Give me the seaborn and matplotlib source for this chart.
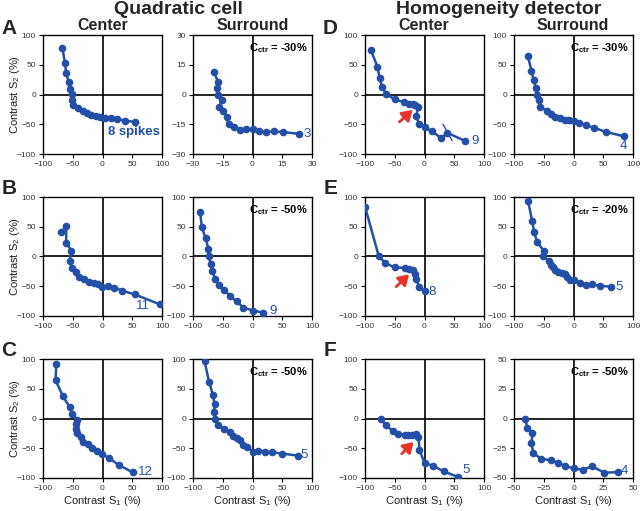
import matplotlib
matplotlib.use("Agg")
import matplotlib.pyplot as plt
import seaborn as sns
import pandas as pd

# ---------------- data ----------------
a_ctr_x = [-67.5, -63, -61, -57, -54, -52, -52, -50, -41, -33, -26, -19, -11, -5, 4, 14, 24, 38, 54]
a_ctr_y = [78.8, 52.5, 36, 21, 9.5, 0.5, -9, -18, -23, -27, -31, -34, -36, -38, -40, -40, -41, -44, -46]
a_sur_x = [-19.5, -17.3, -17.8, -17.5, -15.3, -16.8, -14.8, -13.1, -12.1, -9.5, -6.5, -3.3, 0, 3.5, 6.8, 10.6, 15.6, 23.2]
a_sur_y = [11.5, 6.3, 3.1, 0, -2.6, -6.3, -8.5, -11.1, -14.9, -16.4, -17.9, -17.6, -17.6, -18.6, -18.8, -18.6, -19, -19.8]

b_ctr_x = [-69, -61, -61, -52.4, -55.3, -51.3, -45, -40, -31, -22.7, -14.8, -7.6, -0.3, 9.2, 19.9, 33.3, 54, 96]
b_ctr_y = [40.5, 51.3, 23, 10, -8.2, -19, -26.3, -34.8, -38.2, -42.2, -45, -46.2, -50.7, -49.6, -52.4, -57.5, -63.7, -80.2]
b_sur_x = [-88, -85.4, -78.7, -74.2, -73.1, -70.3, -67.5, -63, -56.3, -47.9, -37.8, -26.6, -15.4, 1.4, 17]
b_sur_y = [75.6, 50.1, 30.3, 13.3, 0.3, -13.3, -24.6, -37.7, -47.9, -56.4, -66, -75.6, -85.8, -90.9, -94.3]

c_ctr_x = [-77.7, -78.8, -66.5, -55.3, -50.8, -43, -44.1, -44.1, -42.5, -35.8, -33, -24.6, -17.3, -8.9, -0.6, 11.7, 27.4, 50.8]
c_ctr_y = [91, 64.2, 37.4, 19.6, 8.4, -1.7, -9.5, -17.9, -25.1, -30.7, -40.2, -43.6, -49.2, -54.7, -59.8, -67, -78.2, -90.5]
c_sur_x = [-80.4, -73.1, -66.4, -63.6, -64.7, -63.6, -58, -48.5, -37.8, -32.2, -25.5, -21, -16.5, -8.7, 1.4, 9.8, 21, 32.2, 49, 75.9]
c_sur_y = [95.8, 61.8, 39.1, 23.8, 10.8, 0, -10.2, -17.6, -23.2, -28.9, -32.9, -36.8, -45.3, -48.7, -55.5, -53.8, -55.5, -56.7, -58.9, -62.3]

d_ctr_x = [-90.4, -79, -75.5, -71.5, -64.5, -50.4, -35.2, -26.8, -20, -15.5, -11, -13.8, -9.3, 0.3, 12.7, 28.5, 38, 67.3]
d_ctr_y = [75.4, 46.4, 27.9, 12.8, 0.6, -7.8, -12.8, -15.6, -16.8, -17.9, -21.2, -36.3, -49.7, -54.7, -62, -73.7, -64.2, -77.7]
d_sur_x = [-76.8, -70.6, -67.2, -63.3, -61.6, -58.8, -56, -44.6, -37.3, -30.5, -23.2, -14.7, -6.8, 0.6, 9.6, 20.3, 34.5, 55.4, 85.3]
d_sur_y = [64.8, 40.2, 24.6, 10.6, -0.6, -10, -21.2, -27.4, -33, -38, -40.2, -42.5, -43.6, -45.3, -47.5, -51.4, -55.9, -63.1, -70.4]

e_ctr_x = [-100, -76.8, -66, -50.2, -33.3, -26, -19.2, -16.4, -13.6, -9.6, 0]
e_ctr_y = [84, 0.3, -11, -18.4, -19, -21.2, -22.4, -29.2, -37.7, -50.7, -58.6]
e_sur_x = [-76.3, -69.5, -66.1, -61, -49.7, -50.8, -41.2, -38.4, -33.9, -31.1, -26.6, -18.6, -14.1, -10.2, -5.6, 0, 11.3, 20.9, 31.1, 45.2, 63.3]
e_sur_y = [92.7, 60.1, 40.4, 23.6, 9.6, 0, -7.3, -14, -18, -22.5, -25.3, -27, -29.8, -34.8, -39.3, -39.3, -44.9, -47.8, -46.6, -49.4, -50.6]

f_ctr_x = [-73.8, -64.8, -53.5, -45, -32.7, -27, -20.3, -14.1, -10.1, -8.5, 0, 14.1, 32.1, 56.3]
f_ctr_y = [0, -11.7, -20.7, -26.3, -27.4, -27.4, -27.4, -26.3, -31.3, -52.5, -74.9, -79.3, -88.8, -98.3]
f_sur_x = [-40.4, -39, -34.5, -35.3, -33.9, -27.7, -19.2, -12.7, -7.1, 0, 7.9, 15.5, 26, 37.6]
f_sur_y = [-0.3, -7.6, -12.5, -21, -28.6, -33.7, -35.1, -37.4, -39.9, -41.9, -43.1, -40.2, -45.6, -45]

# error-bar segment visible in D center
d_err_x = [31, 46.5]
d_err_y = [-50, -77.6]

spike_labels = ["8 spikes", "3", "11", "9", "12", "5", "9", "4", "8", "5", "5", "4"]
ctr_labels = ["C$_{\\mathbf{ctr}}$ = -30%", "C$_{\\mathbf{ctr}}$ = -50%", "C$_{\\mathbf{ctr}}$ = -50%",
              "C$_{\\mathbf{ctr}}$ = -30%", "C$_{\\mathbf{ctr}}$ = -20%", "C$_{\\mathbf{ctr}}$ = -50%"]
ticks_100 = [-100, -50, 0, 50, 100]
ticks_30 = [-30, -15, 0, 15, 30]
ticks_50 = [-50, -25, 0, 25, 50]

# ---------------- style ----------------
sns.set_theme(style="ticks")
plt.rcParams['font.family'] = ['Liberation Sans', 'DejaVu Sans']
plt.rcParams['mathtext.fontset'] = 'custom'
plt.rcParams['mathtext.rm'] = 'Liberation Sans'
plt.rcParams['mathtext.bf'] = 'Liberation Sans:bold'
plt.rcParams['mathtext.it'] = 'Liberation Sans:italic'

BLUE = "#2350a6"
RED = "#e8322b"
W, H = 640, 511

fig = plt.figure(figsize=(6.4, 5.11), dpi=100)

col_left = [43, 193, 365, 514]
row_top = [35, 197, 359]
aw, ah = 119, 119

panels = [
    (0, 0, a_ctr_x, a_ctr_y, ticks_100, 0, (53, -63), None, None),
    (0, 1, a_sur_x, a_sur_y, ticks_30, 1, (27.5, -19.7), 0, None),
    (1, 0, b_ctr_x, b_ctr_y, ticks_100, 2, (68, -84), None, None),
    (1, 1, b_sur_x, b_sur_y, ticks_100, 3, (35, -91), 1, None),
    (2, 0, c_ctr_x, c_ctr_y, ticks_100, 4, (72, -90), None, None),
    (2, 1, c_sur_x, c_sur_y, ticks_100, 5, (87, -62), 2, None),
    (0, 2, d_ctr_x, d_ctr_y, ticks_100, 6, (85, -78), None, ((-42, -46), (-20, -26))),
    (0, 3, d_sur_x, d_sur_y, ticks_100, 7, (84, -86), 3, None),
    (1, 2, e_ctr_x, e_ctr_y, ticks_100, 8, (13.5, -60), None, ((-47.5, -50.7), (-26, -30))),
    (1, 3, e_sur_x, e_sur_y, ticks_100, 9, (76, -51), 4, None),
    (2, 2, f_ctr_x, f_ctr_y, ticks_100, 10, (70, -86), None, ((-38.3, -59.2), (-18.5, -39.5))),
    (2, 3, f_sur_x, f_sur_y, ticks_50, 11, (43, -44.5), 5, None),
]

for (r, c, xs, ys, ticks, li, lpos, ci, arrow) in panels:
    left = col_left[c] / W
    bottom = 1 - (row_top[r] + ah) / H
    ax = fig.add_axes([left, bottom, aw / W, ah / H])
    lim = (ticks[0], ticks[-1])
    ax.axhline(0, color="black", lw=1.2, zorder=1)
    ax.axvline(0, color="black", lw=1.2, zorder=1)
    df = pd.DataFrame({"x": xs, "y": ys})
    sns.lineplot(data=df, x="x", y="y", sort=False, estimator=None, ax=ax,
                 color=BLUE, lw=1.8, marker="o", markersize=5.5,
                 markeredgewidth=0, zorder=3)
    if r == 0 and c == 2:
        ax.plot(d_err_x, d_err_y, color=BLUE, lw=1.0, zorder=3)
    ax.set_xlim(lim)
    ax.set_ylim(lim)
    ax.set_xticks(ticks)
    ax.set_yticks(ticks)
    ax.set_xticklabels([f"{t}".replace("-", "\u2212") for t in ticks])
    ax.set_yticklabels([f"{t}".replace("-", "\u2212") for t in ticks])
    ax.tick_params(axis="both", labelsize=6, length=3, width=0.8, pad=2,
                   direction="out", colors="black", labelcolor="#333333")
    for sp in ax.spines.values():
        sp.set_visible(True)
        sp.set_color("black")
        sp.set_linewidth(1.0)
    ax.set_xlabel("")
    ax.set_ylabel("")
    if c == 0:
        ax.set_ylabel("Contrast S$_2$ (%)", fontsize=8, color="#222222")
        ax.yaxis.set_label_coords(-0.175, 0.5)
    if r == 2:
        ax.set_xlabel("Contrast S$_1$ (%)", fontsize=8, color="#222222")
        ax.xaxis.set_label_coords(0.5, -0.135)
    ax.text(lpos[0], lpos[1], spike_labels[li], color=BLUE, fontsize=9.5,
            ha="center", va="center", fontweight="bold" if li == 0 else "normal")
    if ci is not None:
        ax.text(0.96, 0.95, ctr_labels[ci], transform=ax.transAxes, ha="right",
                va="top", fontsize=8, fontweight="bold", color="black")
    if arrow is not None:
        ax.annotate("", xy=arrow[1], xytext=arrow[0],
                    arrowprops=dict(arrowstyle="-|>,head_length=0.5,head_width=0.32",
                                    color=RED, lw=2.0, shrinkA=0, shrinkB=0),
                    zorder=5)

def ftext(x, y, s, **kw):
    fig.text(x / W, 1 - y / H, s, ha="center", va="center", **kw)

ftext(178, 10, "Quadratic cell", fontsize=14, fontweight="bold")
ftext(499, 10, "Homogeneity detector", fontsize=14, fontweight="bold")
for cx, s in [(102.5, "Center"), (252.5, "Surround"), (424, "Center"), (573, "Surround")]:
    ftext(cx, 25, s, fontsize=11.5, fontweight="bold")
for (x, y, s) in [(9, 28, "A"), (9, 188.5, "B"), (9, 350, "C"),
                  (330, 28, "D"), (331, 188.5, "E"), (330, 350, "F")]:
    ftext(x, y, s, fontsize=15, fontweight="bold")

fig.savefig("out.png", dpi=100)
